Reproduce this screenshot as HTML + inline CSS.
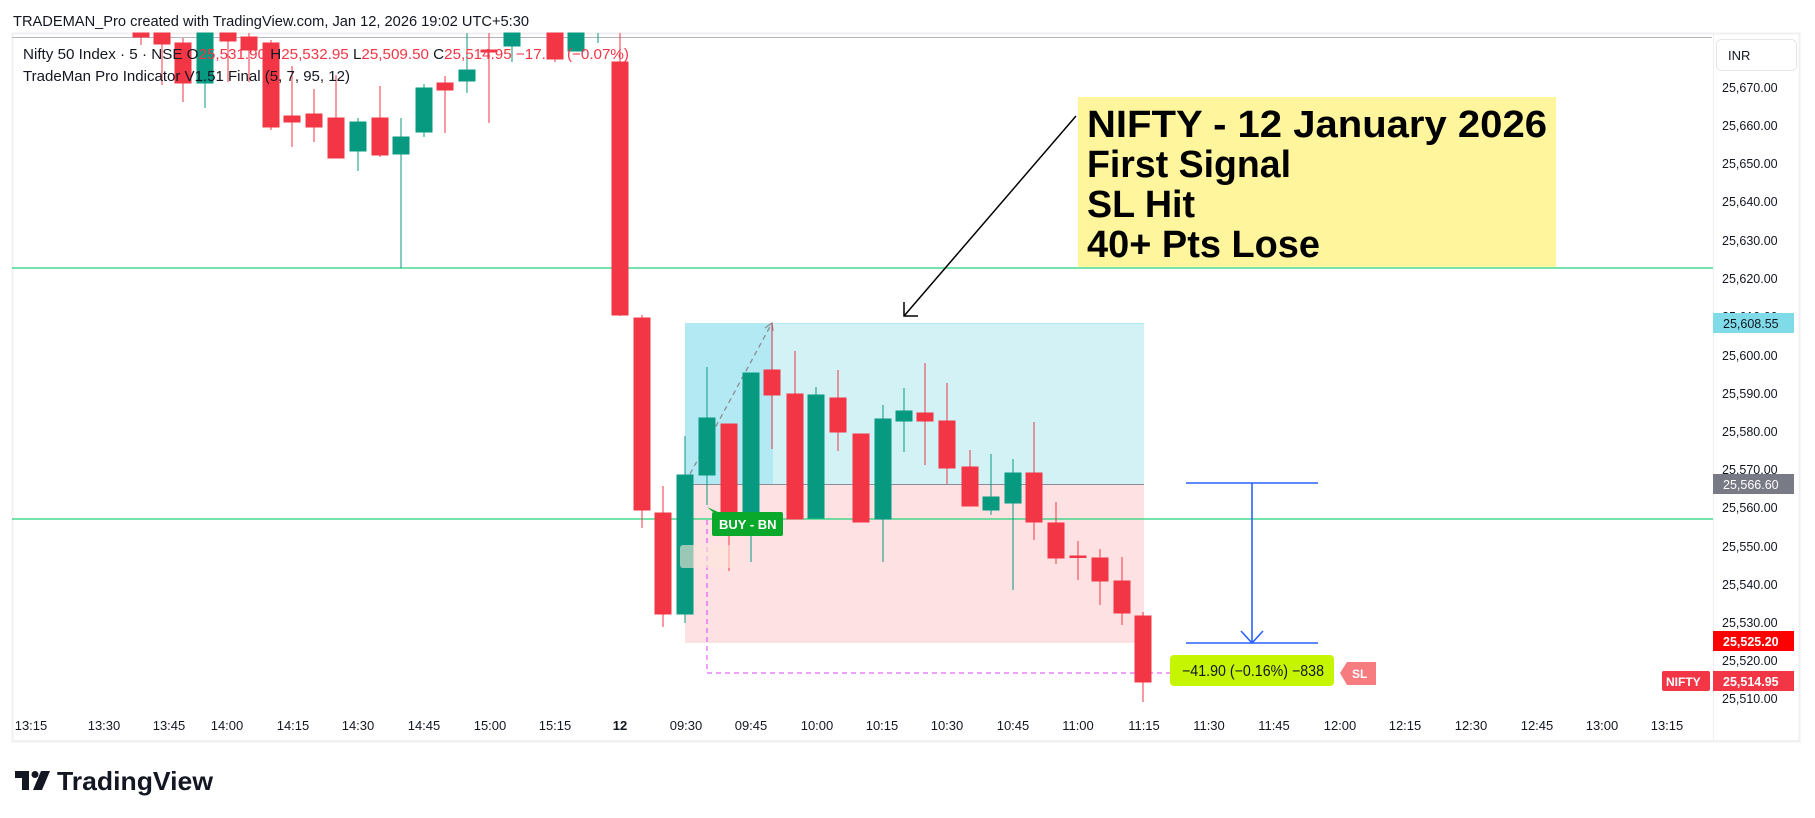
<!DOCTYPE html>
<html><head><meta charset="utf-8"><style>
html,body{margin:0;padding:0;background:#fff;}
svg{display:block;}
text{font-family:"Liberation Sans",sans-serif;}
</style></head><body>
<svg width="1815" height="818" viewBox="0 0 1815 818" xmlns="http://www.w3.org/2000/svg">
<rect width="1815" height="818" fill="#fff"/>
<text x="13" y="26" font-size="15" fill="#131722" textLength="516" lengthAdjust="spacingAndGlyphs">TRADEMAN_Pro created with TradingView.com, Jan 12, 2026 19:02 UTC+5:30</text>
<!-- frame -->
<rect x="12.5" y="33.5" width="1787" height="708" fill="none" stroke="#f0f0f0" stroke-width="2"/>
<line x1="12" y1="37.5" x2="1712" y2="37.5" stroke="#b2b5be" stroke-width="1"/>
<line x1="1713.5" y1="34" x2="1713.5" y2="741" stroke="#f0f0f0" stroke-width="1"/>
<line x1="12" y1="741" x2="1800" y2="741" stroke="#f0f0f0" stroke-width="2"/>

<!-- position boxes -->
<rect x="685" y="323" width="459" height="161" fill="#d2f2f6"/>
<rect x="685" y="323" width="88" height="161" fill="#b3e9f2"/>
<line x1="685" y1="323.5" x2="1144" y2="323.5" stroke="#b3e9f2"/>
<rect x="685" y="484" width="459" height="159" fill="#fde1e3"/>
<line x1="685" y1="484.5" x2="1144" y2="484.5" stroke="#8a8d95" stroke-width="1"/>
<line x1="690" y1="474" x2="772" y2="323" stroke="#8a8d95" stroke-dasharray="5,4" stroke-width="1.3"/>
<polyline points="765,328 772,323 773,331" fill="none" stroke="#8a8d95" stroke-width="1.2"/>

<!-- green horizontal lines -->
<line x1="12" y1="268" x2="1713" y2="268" stroke="#22d37a" stroke-width="1.3"/>
<line x1="12" y1="519" x2="1713" y2="519" stroke="#22d37a" stroke-width="1.3"/>

<!-- magenta dashed -->
<polyline points="707,520 707,673 1170,673" fill="none" stroke="#e040fb" stroke-dasharray="5,4" stroke-width="1"/>

<g id="candles">
<g stroke="#f23645" fill="#f23645">
<line x1="141" y1="33" x2="141" y2="45"/><rect x="133" y="33" width="16" height="4"/>
<line x1="162" y1="33" x2="162" y2="85"/><rect x="154" y="33" width="16" height="11"/>
<line x1="183" y1="38" x2="183" y2="102"/><rect x="175" y="43" width="16" height="40"/>
<line x1="228" y1="33" x2="228" y2="82"/><rect x="220" y="33" width="16" height="8"/>
<line x1="249" y1="33" x2="249" y2="82"/><rect x="241" y="37" width="16" height="13"/>
<line x1="271" y1="40" x2="271" y2="130"/><rect x="263" y="43" width="16" height="84"/>
<line x1="292" y1="66" x2="292" y2="147"/><rect x="284" y="116" width="16" height="6"/>
<line x1="314" y1="89" x2="314" y2="142"/><rect x="306" y="114" width="16" height="13"/>
<line x1="336" y1="75" x2="336" y2="158"/><rect x="328" y="118" width="16" height="40"/>
<line x1="380" y1="86" x2="380" y2="157"/><rect x="372" y="118" width="16" height="37"/>
<line x1="445" y1="76" x2="445" y2="133"/><rect x="437" y="83" width="16" height="7"/>
<line x1="489" y1="33" x2="489" y2="123"/><rect x="481" y="50" width="16" height="2"/>
<line x1="555" y1="33" x2="555" y2="62"/><rect x="547" y="33" width="16" height="26"/>
<line x1="620" y1="33" x2="620" y2="316"/><rect x="612" y="62" width="16" height="253"/>
</g>
<g stroke="#089981" fill="#089981">
<line x1="205" y1="33" x2="205" y2="108"/><rect x="197" y="33" width="16" height="50"/>
<line x1="358" y1="118" x2="358" y2="171"/><rect x="350" y="122" width="16" height="29"/>
<line x1="401" y1="118" x2="401" y2="268"/><rect x="393" y="137" width="16" height="17"/>
<line x1="424" y1="84" x2="424" y2="137"/><rect x="416" y="88" width="16" height="44"/>
<line x1="467" y1="33" x2="467" y2="93"/><rect x="459" y="70" width="16" height="11"/>
<line x1="512" y1="33" x2="512" y2="62"/><rect x="504" y="33" width="16" height="13"/>
<line x1="576" y1="33" x2="576" y2="51"/><rect x="568" y="33" width="16" height="18"/>
<line x1="598" y1="33" x2="598" y2="43"/>
</g>
<g stroke="#f23645" fill="#f23645">
<line x1="642" y1="315" x2="642" y2="528"/><rect x="634" y="318" width="16" height="192"/>
<line x1="663" y1="486" x2="663" y2="627"/><rect x="655" y="513" width="16" height="101"/>
<line x1="729" y1="424" x2="729" y2="571"/><rect x="721" y="424" width="16" height="109"/>
<line x1="772" y1="323" x2="772" y2="449"/><rect x="764" y="370" width="16" height="25"/>
<line x1="795" y1="351" x2="795" y2="519"/><rect x="787" y="394" width="16" height="125"/>
<line x1="838" y1="370" x2="838" y2="451"/><rect x="830" y="398" width="16" height="34"/>
<rect x="853" y="434" width="16" height="88"/>
<line x1="925" y1="363" x2="925" y2="465"/><rect x="917" y="413" width="16" height="8"/>
<line x1="947" y1="383" x2="947" y2="484"/><rect x="939" y="421" width="16" height="47"/>
<line x1="970" y1="450" x2="970" y2="506"/><rect x="962" y="467" width="16" height="39"/>
<line x1="1034" y1="422" x2="1034" y2="540"/><rect x="1026" y="473" width="16" height="49"/>
<line x1="1056" y1="502" x2="1056" y2="564"/><rect x="1048" y="523" width="16" height="35"/>
<line x1="1078" y1="541" x2="1078" y2="580"/><rect x="1070" y="556" width="16" height="1.5"/>
<line x1="1100" y1="549" x2="1100" y2="605"/><rect x="1092" y="558" width="16" height="23"/>
<line x1="1122" y1="557" x2="1122" y2="625"/><rect x="1114" y="581" width="16" height="32"/>
<line x1="1143" y1="612" x2="1143" y2="702"/><rect x="1135" y="616" width="16" height="66"/>
</g>
<g stroke="#089981" fill="#089981">
<line x1="685" y1="436" x2="685" y2="623"/><rect x="677" y="475" width="16" height="139"/>
<line x1="707" y1="367" x2="707" y2="505"/><rect x="699" y="418" width="16" height="57"/>
<line x1="751" y1="373" x2="751" y2="562"/><rect x="743" y="373" width="16" height="140"/>
<line x1="816" y1="387" x2="816" y2="518"/><rect x="808" y="395" width="16" height="123"/>
<line x1="883" y1="405" x2="883" y2="562"/><rect x="875" y="419" width="16" height="100"/>
<line x1="904" y1="388" x2="904" y2="452"/><rect x="896" y="411" width="16" height="10"/>
<line x1="991" y1="454" x2="991" y2="515"/><rect x="983" y="497" width="16" height="13"/>
<line x1="1013" y1="459" x2="1013" y2="590"/><rect x="1005" y="473" width="16" height="30"/>
</g>
</g>

<rect x="680" y="545" width="55" height="23" rx="3" fill="#fde6dc" opacity="0.6"/>
<polygon points="707,507 713,512 718,512" fill="#0aa82b"/>
<rect x="712" y="512" width="71" height="24" rx="2" fill="#0aa82b"/>
<text x="719" y="529" font-size="13" font-weight="bold" fill="#fff">BUY -  BN</text>

<g stroke="#2962ff" stroke-width="1.6" fill="none">
<line x1="1186" y1="483" x2="1318" y2="483"/>
<line x1="1186" y1="643" x2="1318" y2="643"/>
<line x1="1252" y1="483" x2="1252" y2="643"/>
<polyline points="1241,631 1252,643 1263,631"/>
</g>
<rect x="1170" y="655" width="164" height="31" rx="4" fill="#c6f500"/>
<text x="1182" y="676" font-size="15.5" fill="#131722" textLength="142" lengthAdjust="spacingAndGlyphs">−41.90 (−0.16%) −838</text>
<polygon points="1340,673 1347,662 1376,662 1376,685 1347,685" fill="#f77c80"/>
<text x="1352" y="678" font-size="12" font-weight="bold" fill="#fff">SL</text>

<rect x="1078" y="97" width="478" height="170" fill="#fff59d"/>
<g font-size="38" font-weight="bold" fill="#000">
<text x="1087" y="137" textLength="460" lengthAdjust="spacingAndGlyphs">NIFTY - 12 January 2026</text>
<text x="1087" y="177" textLength="204" lengthAdjust="spacingAndGlyphs">First Signal</text>
<text x="1087" y="217" textLength="108" lengthAdjust="spacingAndGlyphs">SL Hit</text>
<text x="1087" y="257" textLength="233" lengthAdjust="spacingAndGlyphs">40+ Pts Lose</text>
</g>
<line x1="1076" y1="116" x2="904" y2="316" stroke="#000" stroke-width="1.5"/>
<polyline points="904,302 904,316 918,316" fill="none" stroke="#000" stroke-width="1.5"/>

<g font-size="15">
<text x="23" y="59" fill="#131722" textLength="606" lengthAdjust="spacingAndGlyphs">Nifty 50 Index · 5 · NSE  O<tspan fill="#f23645">25,531.90</tspan>  H<tspan fill="#f23645">25,532.95</tspan>  L<tspan fill="#f23645">25,509.50</tspan>  C<tspan fill="#f23645">25,514.95  −17.00 (−0.07%)</tspan></text>
<text x="23" y="81" fill="#131722" textLength="327" lengthAdjust="spacingAndGlyphs">TradeMan Pro Indicator V1.51 Final (5, 7, 95, 12)</text>
</g>

<rect x="1716.5" y="39.5" width="80" height="31" rx="5" fill="#fff" stroke="#e6e6e6"/>
<text x="1728" y="60" font-size="13" fill="#131722">INR</text>
<g font-size="12.5" fill="#131722" font-family="DejaVu Sans, sans-serif">
<text x="1722" y="92">25,670.00</text>
<text x="1722" y="130">25,660.00</text>
<text x="1722" y="168">25,650.00</text>
<text x="1722" y="206">25,640.00</text>
<text x="1722" y="245">25,630.00</text>
<text x="1722" y="283">25,620.00</text>
<text x="1722" y="321">25,610.00</text>
<text x="1722" y="360">25,600.00</text>
<text x="1722" y="398">25,590.00</text>
<text x="1722" y="436">25,580.00</text>
<text x="1722" y="474">25,570.00</text>
<text x="1722" y="512">25,560.00</text>
<text x="1722" y="551">25,550.00</text>
<text x="1722" y="589">25,540.00</text>
<text x="1722" y="627">25,530.00</text>
<text x="1722" y="665">25,520.00</text>
<text x="1722" y="703">25,510.00</text>
</g>
<g font-size="12.5" font-family="DejaVu Sans, sans-serif">
<rect x="1713" y="313" width="81" height="20" fill="#7fdbe8"/>
<text x="1723" y="328" fill="#131722">25,608.55</text>
<rect x="1713" y="474" width="81" height="20" fill="#787b86"/>
<text x="1723" y="489" fill="#fff">25,566.60</text>
<rect x="1713" y="631" width="81" height="20" fill="#ff0000"/>
<text x="1723" y="646" font-weight="bold" fill="#fff">25,525.20</text>
<rect x="1713" y="671" width="81" height="20" fill="#f23645"/>
<text x="1723" y="686" font-weight="bold" fill="#fff">25,514.95</text>
<rect x="1662" y="671" width="48" height="20" rx="2" fill="#f23645"/>
<text x="1666" y="686" font-size="12" font-weight="bold" fill="#fff">NIFTY</text>
</g>

<g font-size="13" fill="#131722" text-anchor="middle" font-family="DejaVu Sans, sans-serif">
<text x="31" y="730">13:15</text>
<text x="104" y="730">13:30</text>
<text x="169" y="730">13:45</text>
<text x="227" y="730">14:00</text>
<text x="293" y="730">14:15</text>
<text x="358" y="730">14:30</text>
<text x="424" y="730">14:45</text>
<text x="490" y="730">15:00</text>
<text x="555" y="730">15:15</text>
<text x="620" y="730" font-weight="bold">12</text>
<text x="686" y="730">09:30</text>
<text x="751" y="730">09:45</text>
<text x="817" y="730">10:00</text>
<text x="882" y="730">10:15</text>
<text x="947" y="730">10:30</text>
<text x="1013" y="730">10:45</text>
<text x="1078" y="730">11:00</text>
<text x="1144" y="730">11:15</text>
<text x="1209" y="730">11:30</text>
<text x="1274" y="730">11:45</text>
<text x="1340" y="730">12:00</text>
<text x="1405" y="730">12:15</text>
<text x="1471" y="730">12:30</text>
<text x="1537" y="730">12:45</text>
<text x="1602" y="730">13:00</text>
<text x="1667" y="730">13:15</text>
</g>

<g fill="#131722">
<rect x="15" y="771" width="14" height="7"/>
<rect x="22" y="771" width="7" height="19"/>
<circle cx="35" cy="774.5" r="3.5"/>
<polygon points="41,771 50,771 42,790 33,790"/>
</g>
<text x="57" y="790" font-size="26" font-weight="bold" fill="#131722" textLength="156" lengthAdjust="spacingAndGlyphs">TradingView</text>
</svg>
</body></html>
